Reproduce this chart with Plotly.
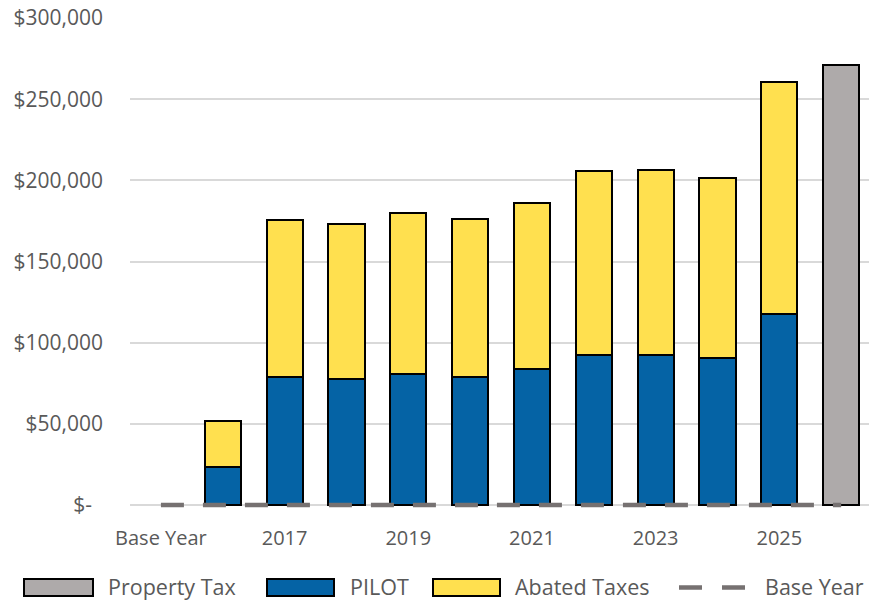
import plotly.graph_objects as go

# Chart data
categories = ["Base Year", "2016", "2017", "2018", "2019", "2020", "2021",
              "2022", "2023", "2024", "2025", "2026"]
pilot = [None, 23300, 78900, 77900, 80700, 79000, 83500, 92600, 92700, 90700, 117400, None]
abated = [None, 28500, 96400, 95500, 98900, 97100, 102700, 112900, 113400, 110700, 142900, None]
property_tax = [None, None, None, None, None, None, None, None, None, None, None, 270900]
base_year = [0] * len(categories)

y_tick_vals = [0, 50000, 100000, 150000, 200000, 250000, 300000]
y_tick_text = ["$-\u00a0\u00a0", "$50,000", "$100,000", "$150,000", "$200,000", "$250,000", "$300,000"]
x_tick_vals = ["Base Year", "2017", "2019", "2021", "2023", "2025"]

GRAY = "#AEAAAA"
BLUE = "#0563A5"
YELLOW = "#FFE04F"
LINE_GRAY = "#767171"
TEXT = "#595959"
FONT = "Open Sans"

fig = go.Figure()
fig.add_trace(go.Bar(x=categories, y=pilot, name="PILOT",
                     marker=dict(color=BLUE, line=dict(color="black", width=2))))
fig.add_trace(go.Bar(x=categories, y=abated, name="Abated Taxes",
                     marker=dict(color=YELLOW, line=dict(color="black", width=2))))
fig.add_trace(go.Bar(x=categories, y=property_tax, name="Property Tax",
                     marker=dict(color=GRAY, line=dict(color="black", width=2))))
fig.add_trace(go.Scatter(x=categories, y=base_year, name="Base Year", mode="lines",
                         line=dict(color=LINE_GRAY, width=4.5, dash="23px,19px")))

# Plot area geometry (pixels); a small strip below zero keeps the
# base-year line from being clipped at the bottom edge
L, R, T, B0 = 130, 869, 18, 505
PAD_PX = 3
Y_MAX = 300000
Y_MIN = -PAD_PX * Y_MAX / (B0 - T)
B = B0 + PAD_PX
W, H = R - L, B - T


def px_x(p):
    return (p - L) / W


def px_y(p):
    return (B - p) / H


shapes = []
annotations = []
legend_items = [("Property Tax", GRAY, 24, 93, 106),
                ("PILOT", BLUE, 267, 334, 348),
                ("Abated Taxes", YELLOW, 433, 500, 513)]
for name, color, x0, x1, tx in legend_items:
    shapes.append(dict(type="rect", xref="paper", yref="paper",
                       x0=px_x(x0), x1=px_x(x1), y0=px_y(596), y1=px_y(579),
                       fillcolor=color, line=dict(color="black", width=2)))
    annotations.append(dict(text=name, xref="paper", yref="paper", x=px_x(tx), y=px_y(586.5),
                            xanchor="left", yanchor="middle", showarrow=False,
                            font=dict(family=FONT, size=21.5, color=TEXT)))
shapes.append(dict(type="line", xref="paper", yref="paper",
                   x0=px_x(679), x1=px_x(745), y0=px_y(587.5), y1=px_y(587.5),
                   line=dict(color=LINE_GRAY, width=4.5, dash="23px,20px")))
annotations.append(dict(text="Base Year", xref="paper", yref="paper", x=px_x(763), y=px_y(586.5),
                        xanchor="left", yanchor="middle", showarrow=False,
                        font=dict(family=FONT, size=21.5, color=TEXT)))

fig.update_layout(
    width=869, height=600,
    margin=dict(l=L, r=869 - R, t=T, b=600 - B),
    barmode="stack", bargap=0.415,
    showlegend=False,
    plot_bgcolor="white", paper_bgcolor="white",
    font=dict(family=FONT, size=20, color=TEXT),
    shapes=shapes, annotations=annotations,
    xaxis=dict(type="category", range=[-0.5, 11.45], tickvals=x_tick_vals,
               showgrid=False, showline=False,
               ticks="", ticklabelstandoff=16, tickfont=dict(size=20, color=TEXT)),
    yaxis=dict(range=[Y_MIN, Y_MAX], tickvals=y_tick_vals, ticktext=y_tick_text,
               showgrid=True, gridcolor="#D9D9D9", gridwidth=1.5,
               zeroline=True, zerolinecolor="#D9D9D9", zerolinewidth=1.5,
               showline=False, ticks="", ticklabelstandoff=26,
               tickfont=dict(size=21, color=TEXT)),
)

fig.write_html("out.html")
